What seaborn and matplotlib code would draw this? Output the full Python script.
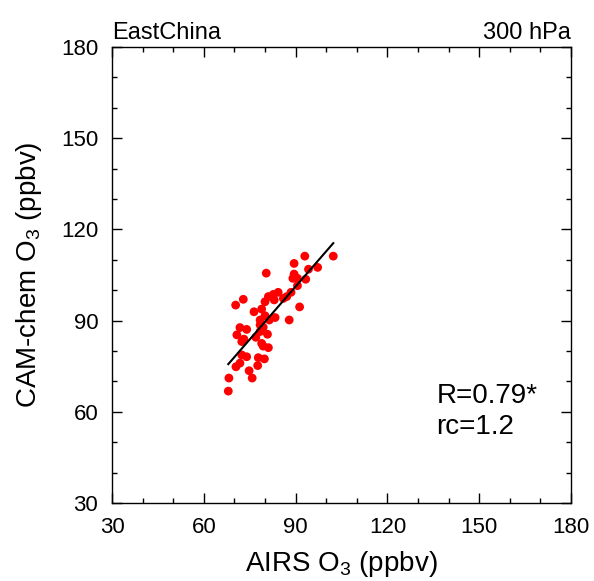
import numpy as np
import pandas as pd
import matplotlib
matplotlib.use('Agg')
import matplotlib.pyplot as plt
from matplotlib.ticker import MultipleLocator
import seaborn as sns

# AIRS vs CAM-chem ozone at 300 hPa, East China
airs_o3 = [102.3, 93.0, 89.5, 97.2, 94.2, 80.4, 89.5, 89.1, 90.6, 93.3,
           90.6, 84.3, 82.7, 81.1, 88.5, 87.1, 86.0, 83.0, 80.0, 72.9,
           70.4, 78.9, 76.4, 91.3, 80.0, 83.3, 81.4, 78.4, 87.9, 78.4,
           79.4, 71.8, 74.0, 78.4, 70.8, 80.8, 73.1, 77.0, 72.4, 78.9,
           79.4, 81.1, 72.4, 74.0, 77.8, 79.8, 71.8, 70.5, 77.6, 74.8,
           68.2, 75.8, 68.0]
cam_o3 = [111.2, 111.2, 108.8, 107.5, 106.9, 105.6, 105.3, 103.9, 103.9, 103.6,
          101.5, 99.3, 98.6, 97.9, 99.3, 97.9, 97.3, 96.8, 96.2, 97.0,
          95.1, 93.8, 92.9, 94.5, 91.6, 91.0, 90.2, 90.2, 90.2, 88.6,
          87.8, 87.7, 87.1, 86.4, 85.3, 85.5, 83.9, 84.5, 83.1, 82.5,
          81.6, 81.1, 78.7, 78.1, 77.8, 77.4, 76.0, 74.8, 75.2, 73.5,
          71.1, 71.1, 66.8]
fit_slope = 1.16
fit_intercept = -3.2
region = 'EastChina'
level = '300 hPa'
stat_text = 'R=0.79*\nrc=1.2'

plt.rcParams['font.family'] = ['Liberation Sans', 'DejaVu Sans']
plt.rcParams['mathtext.fontset'] = 'custom'
plt.rcParams['mathtext.rm'] = 'Liberation Sans'
plt.rcParams['mathtext.it'] = 'Liberation Sans'

df = pd.DataFrame({'airs': airs_o3, 'cam': cam_o3})

fig = plt.figure(figsize=(5.94, 5.81), dpi=100)
ax = fig.add_axes([0.1886, 0.1343, 0.7727, 0.7848])

sns.scatterplot(data=df, x='airs', y='cam', color='red', s=40,
                edgecolor='none', ax=ax, zorder=2)

xl = np.array([df['airs'].min(), df['airs'].max()])
ax.plot(xl, fit_slope * xl + fit_intercept, color='black', lw=1.5, zorder=3)

ax.set_xlim(30, 180)
ax.set_ylim(30, 180)
ax.xaxis.set_major_locator(MultipleLocator(30))
ax.yaxis.set_major_locator(MultipleLocator(30))
ax.xaxis.set_minor_locator(MultipleLocator(10))
ax.yaxis.set_minor_locator(MultipleLocator(10))
ax.tick_params(which='both', direction='in', top=True, right=True,
               labelsize=16, width=1)
ax.tick_params(which='major', length=7, pad=10)
ax.tick_params(which='minor', length=3.5)
for sp in ax.spines.values():
    sp.set_linewidth(1)

ax.set_xlabel('AIRS O$_3$ (ppbv)', fontsize=20, labelpad=8)
ax.set_ylabel('CAM-chem O$_3$ (ppbv)', fontsize=20, labelpad=12)
ax.set_title(region, loc='left', fontsize=17, pad=6)
ax.set_title(level, loc='right', fontsize=17, pad=6)

ax.text(136, 60, stat_text, fontsize=20, ha='left', va='center',
        linespacing=1.25)

fig.savefig('out.png', dpi=100)
